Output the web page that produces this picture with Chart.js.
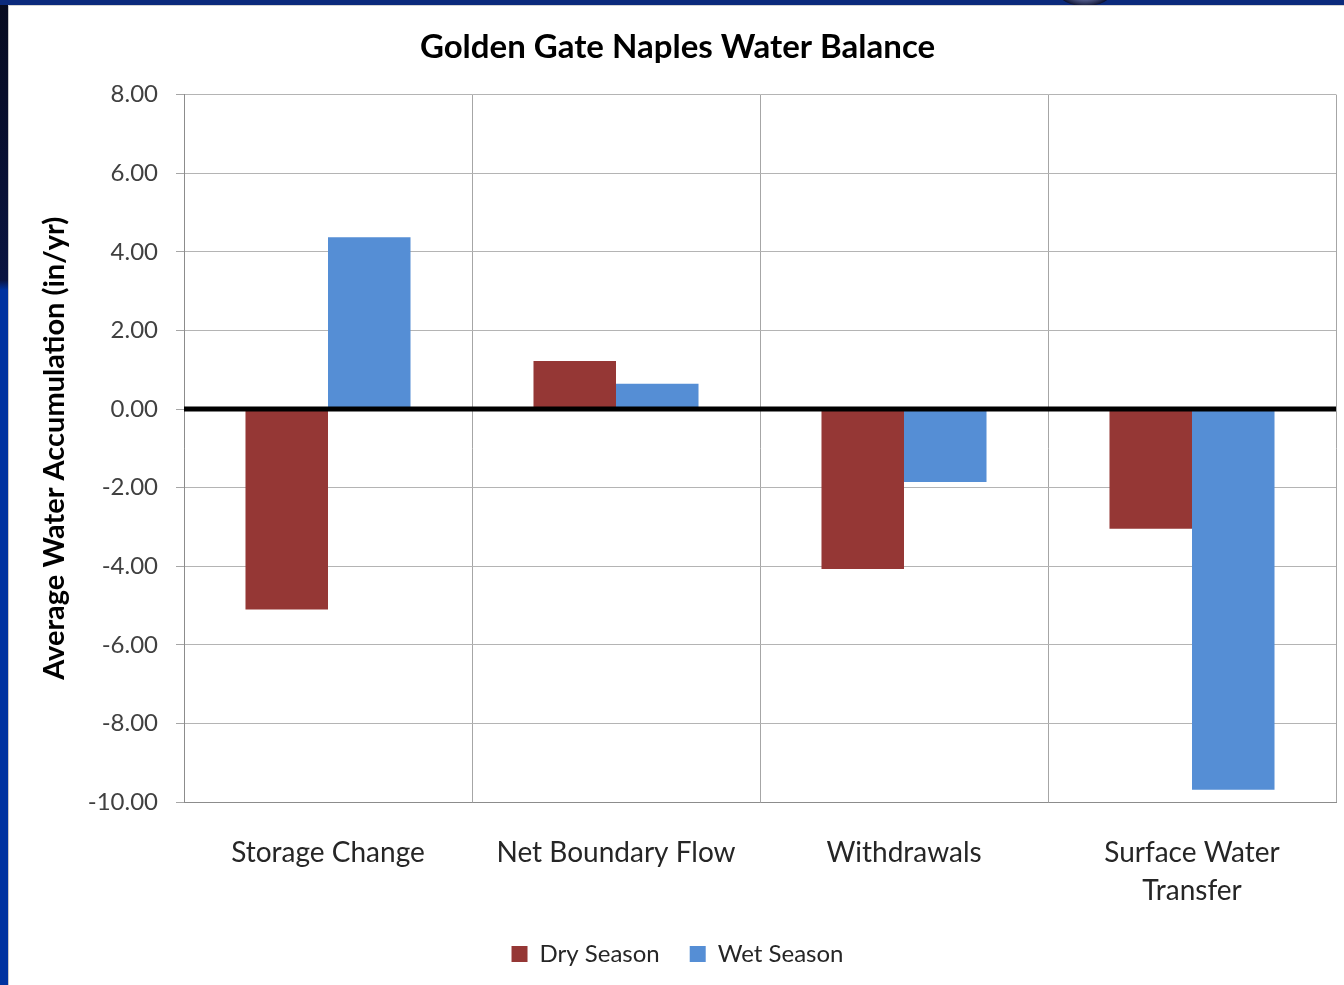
<!DOCTYPE html>
<html>
<head>
<meta charset="utf-8">
<script src="https://cdn.jsdelivr.net/npm/chart.js@4/dist/chart.umd.min.js"></script>
<style>
  html, body { margin: 0; padding: 0; width: 1344px; height: 985px; overflow: hidden; background: #ffffff; }
  .frame-left { position: absolute; left: 0; top: 0; width: 8px; height: 985px;
    background: linear-gradient(to bottom, #070b1f 0px, #0a1440 280px, #0033a0 290px, #0033a0 985px); }
  .frame-top { position: absolute; left: 0; top: 0; width: 1344px; height: 5px; background: #0b2a7c; }
  .edge-left { position: absolute; left: 8px; top: 5px; width: 1px; height: 980px; background: #c8c8c8; }
  .edge-top { position: absolute; left: 8px; top: 5px; width: 1336px; height: 1px; background: #d4d4d4; }
  .logo { position: absolute; left: 1058px; top: -22px; width: 54px; height: 28px; border-radius: 50%;
    background: radial-gradient(ellipse at 50% 30%, #c9cde6 0%, #6a74a8 40%, #0a1030 75%); }
  #wrap { position: absolute; left: 9px; top: 6px; width: 1335px; height: 979px; }
</style>
</head>
<body>
<div class="frame-left"></div>
<div class="frame-top"></div>
<div class="logo"></div>
<div class="edge-left"></div>
<div class="edge-top"></div>
<div id="wrap"><canvas id="chart" width="1335" height="979"></canvas></div>
<script>
// Water balance components (in/yr)
const categories = ['Storage Change', 'Net Boundary Flow', 'Withdrawals', ['Surface Water', 'Transfer']];
const drySeason = [-5.10, 1.22, -4.07, -3.05];
const wetSeason = [4.37, 0.64, -1.86, -9.69];
const seriesNames = ['Dry Season', 'Wet Season'];
const yTicks = { min: -10, max: 8, step: 2 };

const FONT = 'Lato, "Open Sans", "Liberation Sans", sans-serif';

// Heavy black line along the zero value, drawn above the bars
const zeroLine = {
  id: 'zeroLine',
  afterDatasetsDraw(chart) {
    const { ctx, chartArea, scales } = chart;
    const y = scales.y.getPixelForValue(0);
    ctx.save();
    ctx.strokeStyle = '#000000';
    ctx.lineWidth = 5;
    ctx.beginPath();
    ctx.moveTo(chartArea.left, y);
    ctx.lineTo(chartArea.right, y);
    ctx.stroke();
    ctx.restore();
  }
};

new Chart(document.getElementById('chart'), {
  type: 'bar',
  data: {
    labels: categories,
    datasets: [
      { label: seriesNames[0], data: drySeason, backgroundColor: '#953735', borderWidth: 0 },
      { label: seriesNames[1], data: wetSeason, backgroundColor: '#558ed5', borderWidth: 0 }
    ]
  },
  options: {
    responsive: false,
    animation: false,
    events: [],
    datasets: { bar: { categoryPercentage: 0.573, barPercentage: 1.0 } },
    layout: { padding: { left: 10, right: 8, top: 4, bottom: 9 } },
    plugins: {
      title: {
        display: true,
        text: 'Golden Gate Naples Water Balance',
        color: '#000000',
        font: { family: FONT, size: 33, weight: 'bold' },
        padding: { top: 18, bottom: 27 }
      },
      legend: {
        position: 'bottom',
        labels: {
          color: '#262626',
          font: { family: FONT, size: 24 },
          boxWidth: 16,
          boxHeight: 16,
          padding: 30
        }
      },
      tooltip: { enabled: false }
    },
    scales: {
      x: {
        grid: { display: true, offset: true, color: '#a6a6a6', lineWidth: 1, drawTicks: false },
        border: { display: true, color: '#8c8c8c', width: 1 },
        ticks: {
          color: '#262626',
          font: { family: FONT, size: 28, lineHeight: 1.36 },
          padding: 32,
          maxRotation: 0,
          autoSkip: false
        },
        afterFit(scale) { scale.height = 110; }
      },
      y: {
        min: yTicks.min,
        max: yTicks.max,
        grid: { color: '#b4b4b4', lineWidth: 1, tickLength: 8, tickColor: '#a6a6a6', tickWidth: 1 },
        border: { display: true, color: '#8c8c8c', width: 1 },
        ticks: {
          stepSize: yTicks.step,
          color: '#404040',
          font: { family: FONT, size: 24 },
          padding: 18,
          callback: (v) => Number(v).toFixed(2)
        },
        title: {
          display: true,
          text: 'Average Water Accumulation (in/yr)',
          color: '#000000',
          font: { family: FONT, size: 29, weight: 'bold' },
          padding: { top: 18, bottom: 0 }
        },
        afterFit(scale) { scale.width = 165; }
      }
    }
  },
  plugins: [zeroLine]
});
</script>
</body>
</html>
